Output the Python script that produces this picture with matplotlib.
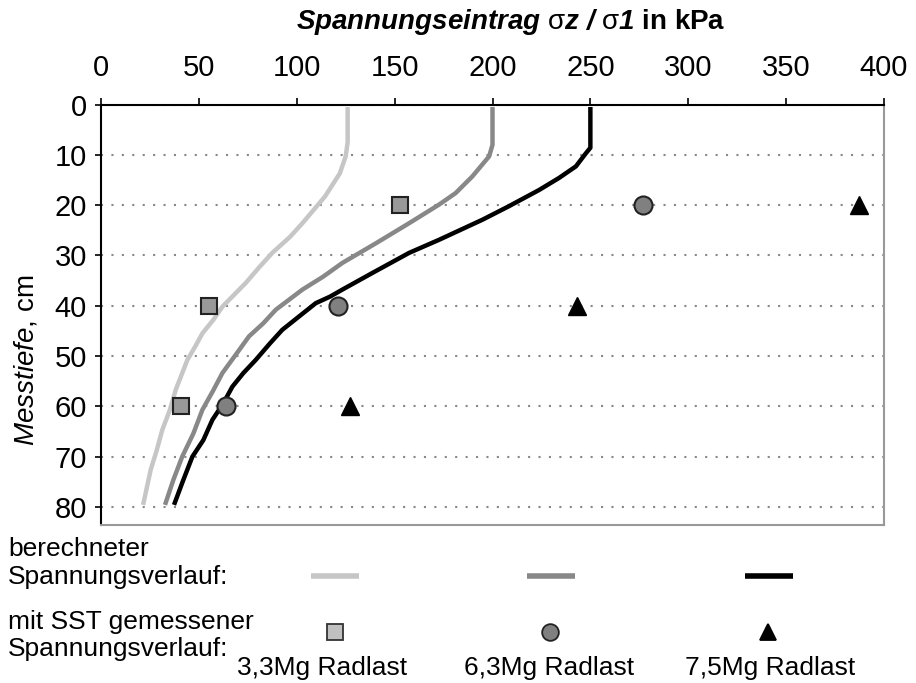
import matplotlib.pyplot as plt
from matplotlib.lines import Line2D

plt.rcParams['font.family'] = ['Liberation Sans', 'DejaVu Sans']
plt.rcParams['mathtext.fontset'] = 'custom'
plt.rcParams['mathtext.rm'] = 'Liberation Sans'
plt.rcParams['mathtext.it'] = 'Liberation Sans:italic'
plt.rcParams['mathtext.bf'] = 'Liberation Sans:bold:italic'
plt.rcParams['mathtext.sf'] = 'Liberation Sans:bold'

# calculated stress curves (depth in cm, stress in kPa)
depth_33 = [0.5, 7.5, 10.3, 13.7, 18.3, 23.6, 26.3, 29.5, 32.2, 35.5, 40.2, 42.8, 45.5, 48.2,
            50.8, 56.7, 60.7, 64.7, 68.7, 72.6, 79.6]
stress_33 = [126, 126, 125, 122, 114.4, 102.9, 96.6, 87.5, 81.2, 73.9, 62, 57.4, 51.8, 48,
             44.1, 38.2, 35.2, 31.3, 28.5, 25.4, 21.5]

depth_63 = [0.5, 8, 10.3, 14.3, 17.6, 19.9, 23.6, 27.6, 31.5, 34.2, 36.8, 40.8, 43.5, 46.1,
            49.5, 53.4, 56.8, 60.7, 65.4, 70, 74.7, 79.6]
stress_63 = [200, 200, 198.3, 189.7, 181.2, 172.7, 157.4, 140.4, 123.3, 113.6, 102.9, 89.3,
             82.9, 75.6, 69.3, 62, 57.4, 51.8, 47.2, 41.5, 36.9, 32.7]

depth_75 = [0.5, 8.6, 9.7, 12.3, 14.6, 17, 20.3, 22.9, 26.9, 29.5, 33.5, 36.8, 38.2, 39.5,
            44.8, 47.5, 50.8, 53.4, 56.1, 59.4, 62.7, 66.7, 70, 74.7, 79.6]
stress_75 = [250, 250, 247.7, 242.6, 234, 223.8, 208, 194.9, 172.7, 157.4, 138.6, 123.3, 117,
             109.7, 92.6, 86.3, 79, 72.7, 67.1, 62.5, 56.9, 52.3, 46.7, 42, 37.3]

# measured with SST
sst_depth = [20, 40, 60]
sst_33 = [153, 55, 41]
sst_63 = [277, 121, 64]
sst_75 = [387, 243, 127]

xticks = [0, 50, 100, 150, 200, 250, 300, 350, 400]
yticks = [0, 10, 20, 30, 40, 50, 60, 70, 80]
load_labels = ['3,3Mg Radlast', '6,3Mg Radlast', '7,5Mg Radlast']

W, H = 916, 683


def fx(x):
    return x / W


def fy(y):
    return 1 - y / H


fig = plt.figure(figsize=(W / 100, H / 100), dpi=100)
ax = fig.add_axes([fx(101), fy(525), (884 - 101) / W, (525 - 104.5) / H])

# curves
for s, d, c in [(stress_33, depth_33, '#c6c6c6'), (stress_63, depth_63, '#888888'),
                (stress_75, depth_75, 'black')]:
    ax.plot(s, d, color=c, lw=3.2, solid_capstyle='butt', solid_joinstyle='round')

# measured points
ax.plot(sst_33, sst_depth, 's', ms=11.5, mfc='#999999', mec='#222222', mew=1.5, ls='none')
ax.plot(sst_63, sst_depth, 'o', ms=13, mfc='#808080', mec='#222222', mew=1.5, ls='none')
ax.plot(sst_75, sst_depth, '^', ms=13, mfc='black', mec='black', ls='none')

ax.set_xlim(0, 400)
ax.set_ylim(83.6, 0)
ax.set_xticks(xticks)
ax.set_yticks(yticks)
ax.xaxis.tick_top()
ax.tick_params(axis='x', direction='out', length=5, width=1.2, labelsize=21, pad=11)
ax.tick_params(axis='y', direction='out', length=4, width=1.2, labelsize=21, pad=6)

ax.grid(axis='y', color='#888888', linestyle=(0, (1, 4)), linewidth=1.5)
ax.set_axisbelow(True)

for side in ['top', 'left']:
    ax.spines[side].set_color('black')
    ax.spines[side].set_linewidth(1.5)
for side in ['right', 'bottom']:
    ax.spines[side].set_color('#999999')
    ax.spines[side].set_linewidth(1.5)

# axis titles
fig.text(fx(511), fy(22),
         r'$\mathbf{Spannungseintrag}\ \mathrm{σ}\mathbf{z\ /\ }\mathrm{σ}\mathbf{1}\ \mathsf{in\ kPa}$',
         fontsize=20, ha='center', va='center')
fig.text(fx(26), fy(360), r'$\mathit{Messtiefe}$, cm', fontsize=20, rotation=90,
         ha='center', va='center')

# legend block below the axes
fig.text(fx(8), fy(549), 'berechneter', fontsize=19, ha='left', va='center')
fig.text(fx(8), fy(577), 'Spannungsverlauf:', fontsize=19, ha='left', va='center')
fig.text(fx(8), fy(622), 'mit SST gemessener', fontsize=19, ha='left', va='center')
fig.text(fx(8), fy(649), 'Spannungsverlauf:', fontsize=19, ha='left', va='center')

line_colors = ['#c6c6c6', '#888888', 'black']
line_x = [311, 527, 745]
for x0, c in zip(line_x, line_colors):
    fig.add_artist(Line2D([fx(x0), fx(x0 + 48)], [fy(576), fy(576)], color=c, lw=4,
                          solid_capstyle='butt', transform=fig.transFigure))

marker_x = [335, 550, 768]
marker_styles = [('s', 11.5, '#c0c0c0', '#333333'), ('o', 12, '#808080', '#222222'),
                 ('^', 12, 'black', 'black')]
for x0, (m, ms, fc, ec) in zip(marker_x, marker_styles):
    fig.add_artist(Line2D([fx(x0)], [fy(632)], marker=m, ms=ms, mfc=fc, mec=ec, mew=1.3,
                          ls='none', transform=fig.transFigure))

label_x = [322, 549, 770]
for x0, t in zip(label_x, load_labels):
    fig.text(fx(x0), fy(668), t, fontsize=19, ha='center', va='center')

fig.savefig('out.png', dpi=100)
